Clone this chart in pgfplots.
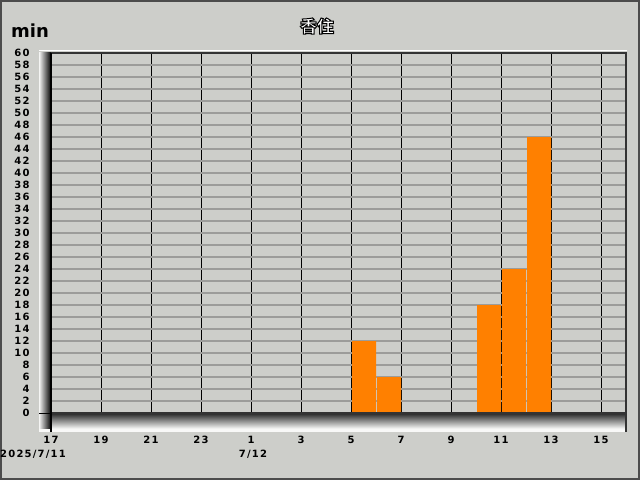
\documentclass[border=0pt]{standalone}
\usepackage{pgfplots}
\usepackage{pgfplotstable}
\pgfplotsset{compat=1.18}
\usepackage{fontspec}
\setmainfont{DejaVu Sans}
\newfontfamily\tickfont{DejaVu Sans}[LetterSpace=12]
\newfontfamily\cjk{Noto Sans CJK JP}
\definecolor{bg}{RGB}{205,206,202}
\definecolor{barorange}{RGB}{255,128,0}
\definecolor{gridgray}{RGB}{156,156,154}

% hourly totals, hour index 0 = 17:00 on 7/11
\pgfplotstableread{
h v
0 0
1 0
2 0
3 0
4 0
5 0
6 0
7 0
8 0
9 0
10 0
11 0
12 12
13 6
14 0
15 0
16 0
17 18
18 24
19 46
20 0
21 0
22 0
}\rainhours

\begin{document}
\begin{tikzpicture}
% panel
\fill[bg] (0pt,0pt) rectangle (640pt,480pt);
\draw[line width=2pt,black!70] (1pt,1pt) rectangle (639pt,479pt);
% bevelled frame round the plot area
\fill[white!85!bg] (39pt,48pt) rectangle (626pt,52pt);
\shade[top color=black!80, bottom color=white!70!bg] (44pt,52pt) rectangle (626pt,66pt);
\shade[left color=white!80!bg, right color=black] (39pt,52pt) rectangle (51pt,427pt);
\draw[white, line width=1.2pt] (39pt,429.5pt) -- (627pt,429.5pt);

\begin{axis}[
  at={(51pt,67pt)}, anchor=south west,
  scale only axis, width=575pt, height=360pt,
  xmin=0, xmax=23, ymin=0, ymax=60,
  axis background/.style={fill=bg},
  axis line style={draw=none},
  major tick length=0pt,
  xtick={0,2,...,22},
  xticklabels={17,19,21,23,1,3,5,7,9,11,13,15},
  ytick={0,2,...,60},
  yticklabel={\pgfmathparse{int(round(\tick))}\pgfmathresult},
  ticklabel style={font=\tickfont\bfseries\fontsize{10}{10}\selectfont},
  yticklabel style={anchor=east, xshift=-18pt},
  xticklabel style={anchor=north, yshift=-19.5pt},
  xmajorgrids, ymajorgrids,
  x grid style={black, line width=1pt},
  y grid style={gridgray, line width=1.6pt},
  clip=false,
]
\addplot[ybar, bar width=0.96, bar shift=0pt, fill=barorange, draw=none]
  table[x expr=\thisrow{h}+0.52, y=v] {\rainhours};
\end{axis}

% axis frame
\draw[black!80, line width=2pt] (51pt,427pt) -- (626pt,427pt) -- (626pt,48pt);
\draw[black!80, line width=2.5pt] (51pt,66.5pt) -- (626pt,66.5pt);
\draw[black, line width=1.5pt] (51pt,48pt) -- (51pt,427pt);
\draw[black, line width=1pt] (39pt,67pt) -- (51pt,67pt);

% labels
\node[font=\bfseries\fontsize{18}{18}\selectfont] at (30pt,449pt) {min};
\node[anchor=west, font=\tickfont\bfseries\fontsize{10}{10}\selectfont, inner sep=0pt] at (0pt,26pt) {2025/7/11};
\node[font=\tickfont\bfseries\fontsize{10}{10}\selectfont, inner sep=0pt] at (253pt,26pt) {7/12};
% title: white letters with a black outline
\node[font=\cjk\bfseries\fontsize{17}{17}\selectfont] at (317pt,454pt)
  {\special{pdf:code q 2 Tr 1.0 w 0 G 1 g}香住\special{pdf:code Q}};
\end{tikzpicture}
\end{document}
